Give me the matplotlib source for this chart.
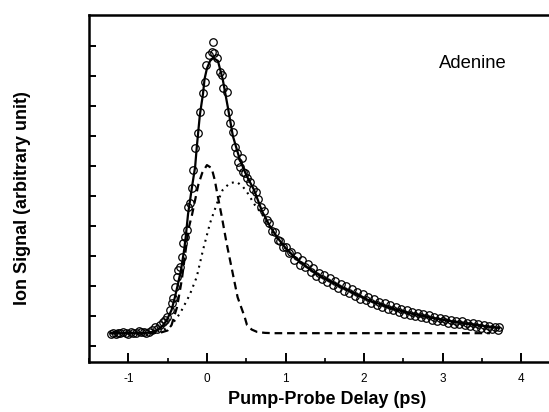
import matplotlib
matplotlib.use("Agg")
import matplotlib.pyplot as plt

plt.rcParams['font.family'] = ['Liberation Sans', 'DejaVu Sans']
plt.rcParams['axes.unicode_minus'] = False
plt.rcParams['lines.scale_dashes'] = False

# ---- data ----
data_x = [-1.22, -1.19, -1.16, -1.13, -1.10, -1.07, -1.03, -1.00, -0.97, -0.94, -0.90, -0.87,
          -0.84, -0.80, -0.77, -0.74, -0.70,
          -0.66, -0.63, -0.60, -0.56, -0.53, -0.51, -0.47, -0.45, -0.43, -0.41, -0.38, -0.37,
          -0.34, -0.32, -0.31, -0.28, -0.25, -0.24, -0.22, -0.19, -0.18, -0.15, -0.11, -0.09,
          -0.05, -0.02, -0.01, 0.03, 0.06, 0.08, 0.09, 0.13, 0.17, 0.19, 0.20, 0.25, 0.27, 0.29,
          0.33, 0.36, 0.38, 0.39, 0.42, 0.44, 0.46, 0.48,
          0.51, 0.55, 0.58, 0.62, 0.65, 0.69, 0.72, 0.76, 0.79, 0.83, 0.86, 0.90, 0.93, 0.97,
          1.00, 1.04, 1.07, 1.11, 1.14, 1.18, 1.21, 1.25, 1.28, 1.32, 1.35, 1.39, 1.42, 1.46,
          1.49, 1.53, 1.56, 1.60, 1.63, 1.67, 1.70, 1.74, 1.77, 1.81, 1.84, 1.88, 1.91, 1.95,
          1.98, 2.02, 2.05, 2.09, 2.12, 2.16, 2.19, 2.23, 2.26, 2.30, 2.33, 2.37, 2.40, 2.44,
          2.47, 2.51, 2.54, 2.58, 2.61, 2.65, 2.68, 2.72, 2.75, 2.79, 2.82, 2.86, 2.89, 2.93,
          2.96, 3.00, 3.03, 3.07, 3.10, 3.14, 3.17, 3.21, 3.24, 3.28, 3.31, 3.35, 3.38, 3.42,
          3.45, 3.49, 3.52, 3.56, 3.59, 3.63, 3.66, 3.70, 3.72]
data_y = [0.40, 0.44, 0.41, 0.45, 0.42, 0.46, 0.43, 0.41, 0.47, 0.44, 0.45, 0.50,
          0.46, 0.48, 0.44, 0.47, 0.52,
          0.63, 0.58, 0.70, 0.80, 0.88, 0.97, 1.20, 1.43, 1.60, 1.97, 2.30, 2.53,
          2.63, 2.97, 3.43, 3.63, 3.87, 4.63, 4.77, 5.27, 5.87, 6.60, 7.10, 7.80,
          8.43, 8.80, 9.37, 9.70, 9.80, 10.13, 9.77, 9.60, 9.13, 9.03, 8.60, 8.47, 7.80, 7.43,
          7.13, 6.63, 6.43, 6.13, 5.97, 6.26, 5.80, 5.77,
          5.60, 5.47, 5.25, 5.15, 4.90, 4.62, 4.50, 4.20, 4.10, 3.85, 3.80, 3.55, 3.50, 3.30,
          3.30, 3.10, 3.12, 2.88, 3.00, 2.70, 2.86, 2.62, 2.72, 2.48, 2.60, 2.34, 2.45, 2.25,
          2.38, 2.14, 2.28, 2.05, 2.16, 1.94, 2.08, 1.84, 2.00, 1.77, 1.90, 1.68, 1.80, 1.58,
          1.72, 1.52, 1.65, 1.43, 1.56, 1.38, 1.48, 1.31, 1.44, 1.24, 1.36, 1.19, 1.30, 1.14,
          1.25, 1.08, 1.20, 1.04, 1.15, 0.99, 1.10, 0.96, 1.06, 0.92, 1.02, 0.88, 0.98, 0.84,
          0.94, 0.82, 0.91, 0.78, 0.88, 0.75, 0.85, 0.72, 0.82, 0.69, 0.78, 0.66, 0.76, 0.64,
          0.72, 0.60, 0.70, 0.58, 0.67, 0.56, 0.63, 0.55, 0.62]

fit_x = [-1.22, -0.80, -0.70, -0.64, -0.57, -0.51, -0.45, -0.41, -0.37, -0.33, -0.29, -0.27,
         -0.24, -0.19, -0.15, -0.13, -0.09, -0.05, -0.03, 0.00, 0.04, 0.08, 0.14, 0.20, 0.27,
         0.33, 0.42, 0.50, 0.60, 0.70, 0.80, 0.90, 1.00, 1.10, 1.20, 1.30, 1.40, 1.50, 1.60,
         1.70, 1.80, 1.90, 2.00, 2.10, 2.20, 2.30, 2.40, 2.50, 2.60, 2.70, 2.80, 2.90, 3.00,
         3.10, 3.20, 3.30, 3.40, 3.50, 3.60, 3.72]
fit_y = [0.43, 0.43, 0.47, 0.53, 0.65, 0.87, 1.20, 1.60, 2.05, 2.53, 3.20, 3.63,
         4.40, 5.30, 5.97, 6.60, 7.70, 8.40, 8.90, 9.25, 9.50, 9.60, 9.50, 8.90, 7.90,
         7.00, 6.20, 5.70, 5.20, 4.50, 4.00, 3.60, 3.27, 3.00, 2.78, 2.58, 2.40, 2.25, 2.12,
         1.98, 1.85, 1.73, 1.60, 1.48, 1.40, 1.30, 1.22, 1.15, 1.08, 1.03, 0.98, 0.92, 0.88,
         0.83, 0.79, 0.75, 0.71, 0.68, 0.64, 0.60]

gauss_x = [-1.22, -0.60, -0.50, -0.45, -0.38, -0.32, -0.27, -0.23, -0.19, -0.15, -0.11,
           -0.06, 0.00, 0.06, 0.10, 0.13, 0.19, 0.25, 0.32, 0.39, 0.48, 0.51, 0.57, 0.64,
           0.74, 0.84, 3.60]
gauss_y = [0.43, 0.44, 0.52, 0.70, 1.30, 2.20, 3.20, 3.95, 4.37, 4.87, 5.37,
           5.77, 6.03, 5.93, 5.53, 5.10, 4.30, 3.43, 2.53, 1.63, 0.97, 0.70, 0.55, 0.47,
           0.44, 0.43, 0.43]

decay_x = [-1.22, -0.85, -0.73, -0.60, -0.47, -0.34, -0.22, -0.13, -0.05, 0.04, 0.13, 0.20,
           0.29, 0.38, 0.46, 0.51, 0.61, 0.70, 0.80, 0.90, 1.00, 1.20, 1.40, 1.60, 1.80,
           2.00, 2.20, 2.40, 2.60, 2.80, 3.00, 3.20, 3.40, 3.60, 3.72]
decay_y = [0.43, 0.43, 0.44, 0.50, 0.63, 1.10, 1.70, 2.30, 3.20, 4.10, 4.77, 5.20,
           5.43, 5.47, 5.30, 5.13, 4.70, 4.40, 3.95, 3.57, 3.25, 2.76, 2.39, 2.11, 1.84,
           1.59, 1.39, 1.21, 1.07, 0.97, 0.87, 0.78, 0.70, 0.63, 0.60]

x_ticks = [-1, 0, 1, 2, 3, 4]
x_minor = [-1.5, -0.5, 0.5, 1.5, 2.5, 3.5]
y_ticks = [0, 1, 2, 3, 4, 5, 6, 7, 8, 9, 10]

W, H = 549, 412
RIGHT = 600
fig = plt.figure(figsize=(W / 100, H / 100), dpi=100)
ax = fig.add_axes([89 / W, (H - 362) / H, (RIGHT - 89) / W, (362 - 15) / H])

ax.plot(gauss_x, gauss_y, color='black', lw=1.6, dashes=(5.5, 3.5), zorder=2)
ax.plot(decay_x, decay_y, color='black', lw=1.5, dashes=(1.4, 3.4), zorder=2)
ax.plot(fit_x, fit_y, color='black', lw=1.6, zorder=3)
ax.plot(data_x, data_y, linestyle='none', marker='o', ms=5.4, mfc='none',
        mec='black', mew=0.9, zorder=4)

ax.set_xlim(-1.5, (RIGHT - 207) / 78.6)
ax.set_ylim(-0.53, 11.03)
ax.set_xticks(x_ticks)
ax.set_xticks(x_minor, minor=True)
ax.set_yticks(y_ticks)
ax.set_yticklabels([])
ax.set_xticklabels([str(v) for v in x_ticks])
ax.tick_params(axis='x', which='major', direction='in', length=6.5, width=1.4,
               labelsize=8.5, pad=8, top=False)
ax.tick_params(axis='x', which='minor', direction='in', length=3, width=1.2, top=False)
ax.tick_params(axis='y', which='major', direction='in', length=5, width=1.4, right=False)
for s in ax.spines.values():
    s.set_linewidth(1.8)
ax.spines['right'].set_visible(False)

fig.text(327 / W, 1 - 399 / H, 'Pump-Probe Delay (ps)', fontsize=13, fontweight='bold',
         ha='center', va='center')
fig.text(23 / W, 1 - 198 / H, 'Ion Signal (arbitrary unit)', fontsize=13, fontweight='bold',
         ha='center', va='center', rotation=90)
fig.text(473 / W, 1 - 64 / H, 'Adenine', fontsize=13.3, ha='center', va='center')

fig.savefig('out.png', dpi=100)
